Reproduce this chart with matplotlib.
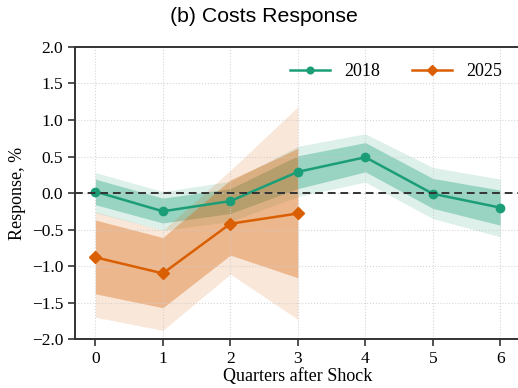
"""Costs impulse response, 2018 vs 2025 sample
"""

import matplotlib
matplotlib.use("Agg")
import matplotlib.pyplot as plt
import numpy as np

# Quarters after shock
quarters_2018 = [0, 1, 2, 3, 4, 5, 6]
quarters_2025 = [0, 1, 2, 3]

# Point estimates
resp_2018 = [0.02, -0.25, -0.11, 0.29, 0.49, -0.01, -0.20]
resp_2025 = [-0.88, -1.10, -0.42, -0.28]

# Confidence bands (inner = 68%, outer = 90%)
inner_lo_2018 = [-0.16, -0.41, -0.28, 0.06, 0.29, -0.21, -0.44]
inner_hi_2018 = [0.19, -0.07, 0.06, 0.51, 0.69, 0.20, 0.04]
outer_lo_2018 = [-0.27, -0.51, -0.39, -0.05, 0.15, -0.35, -0.60]
outer_hi_2018 = [0.28, 0.02, 0.16, 0.64, 0.81, 0.35, 0.19]

inner_lo_2025 = [-1.38, -1.57, -0.85, -1.16]
inner_hi_2025 = [-0.37, -0.61, 0.18, 0.61]
outer_lo_2025 = [-1.70, -1.88, -1.11, -1.73]
outer_hi_2025 = [-0.26, -0.51, 0.31, 1.18]

GREEN = "#1b9e77"
ORANGE = "#d95f02"

plt.rcParams["font.family"] = ["Liberation Serif", "DejaVu Serif"]

fig = plt.figure(figsize=(5.18, 3.88), dpi=100)
ax = fig.add_axes([0.145, 0.126, 0.86, 0.753])

ax.fill_between(quarters_2018, outer_lo_2018, outer_hi_2018,
                color=GREEN, alpha=0.15, linewidth=0)
ax.fill_between(quarters_2018, inner_lo_2018, inner_hi_2018,
                color=GREEN, alpha=0.35, linewidth=0)
ax.fill_between(quarters_2025, outer_lo_2025, outer_hi_2025,
                color=ORANGE, alpha=0.15, linewidth=0)
ax.fill_between(quarters_2025, inner_lo_2025, inner_hi_2025,
                color=ORANGE, alpha=0.35, linewidth=0)

ax.plot(quarters_2018, resp_2018, color=GREEN, marker="o", markersize=6,
        linewidth=1.8, label="2018")
ax.plot(quarters_2025, resp_2025, color=ORANGE, marker="D", markersize=6.5,
        linewidth=1.8, label="2025")

ax.axhline(0, color="#333333", linestyle="--", linewidth=1.4, dashes=(4, 2.5))

ax.set_xlim(-0.3, 6.3)
ax.set_ylim(-2.0, 2.0)
ax.set_xticks(quarters_2018)
ax.set_yticks(np.arange(-2.0, 2.01, 0.5))
ax.yaxis.set_major_formatter(matplotlib.ticker.StrMethodFormatter("{x:.1f}"))
ax.tick_params(labelsize=12.5, length=5, width=1.2, color="#333333")
ax.grid(color="#cccccc", linestyle=":", linewidth=0.8, alpha=0.8)

for side in ["left", "bottom", "top"]:
    ax.spines[side].set_linewidth(1.4)
    ax.spines[side].set_color("#333333")
ax.spines["right"].set_visible(False)

ax.set_xlabel("Quarters after Shock", fontsize=13, labelpad=1)
ax.set_ylabel("Response, %", fontsize=13)
fig.text(0.51, 0.958, "(b) Costs Response", fontsize=15.3,
         family="Liberation Sans", ha="center", va="center")

ax.legend(loc="upper right", ncol=2, frameon=False, fontsize=13,
          handlelength=2.2, columnspacing=1.75, markerscale=0.8,
          bbox_to_anchor=(0.995, 1.0))

fig.savefig("out.png", dpi=100)
